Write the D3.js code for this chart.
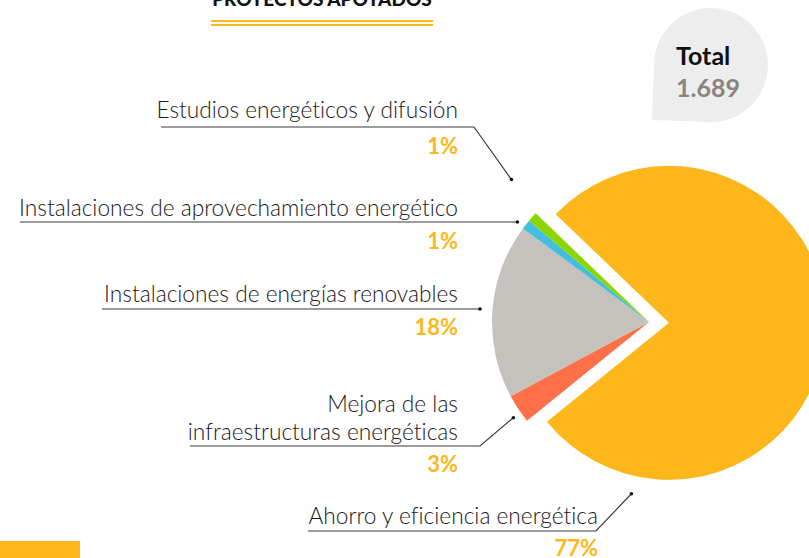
<!DOCTYPE html>
<html><head><meta charset="utf-8">
<script src="https://cdn.jsdelivr.net/npm/d3@7"></script>
<style>
html,body{margin:0;padding:0;background:#fff;}
svg{display:block;}
text{font-variant-ligatures:none;}
</style>
</head><body>
<svg id="c" width="809" height="558"></svg>
<script>
// ---- data ----
const title = "PROYECTOS APOYADOS";
const totalLabel = "Total";
const totalValue = "1.689";
const categories = [
  "Mejora de las infraestructuras energéticas",
  "Instalaciones de energías renovables",
  "Instalaciones de aprovechamiento energético",
  "Estudios energéticos y difusión",
  "Ahorro y eficiencia energética"
];
const shares = [3, 18, 1, 1, 77];
const colors = ["#FF7048", "#C5C1BD", "#43BEDC", "#8CD600", "#FDB71B"];

// ---- drawing ----
const svg = d3.select("#c");
const font = "Lato, 'Open Sans', sans-serif";
const cx = 649, cy = 322, R = 157;
const textColor = "#1a1718";
const lineColor = "#3a3a3a";
const yellow = "#FDB71B";

// title (cut at top)
svg.append("text").attr("x", 322).attr("y", 6).attr("text-anchor", "middle")
  .attr("font-family", font).attr("font-weight", 900).attr("font-size", 19)
  .attr("fill", "#111").text(title);
svg.append("rect").attr("x", 211).attr("y", 20).attr("width", 222).attr("height", 2).attr("fill", yellow);
svg.append("rect").attr("x", 211).attr("y", 24).attr("width", 222).attr("height", 2).attr("fill", yellow);

// bottom-left bar
svg.append("rect").attr("x", 0).attr("y", 541).attr("width", 80).attr("height", 17).attr("fill", yellow);

// total bubble
svg.append("path")
  .attr("d", "M652,120 L654,68 A57,57 0 1,1 710,122 Z")
  .attr("fill", "#EDEDED");
svg.append("text").attr("x", 676).attr("y", 65)
  .attr("font-family", font).attr("font-weight", 700).attr("font-size", 25)
  .attr("fill", "#111").text(totalLabel);
svg.append("text").attr("x", 676).attr("y", 97)
  .attr("font-family", font).attr("font-weight", 700).attr("font-size", 25)
  .attr("fill", "#8A837F").text(totalValue);

// pie
const startDeg = -129;
const pie = d3.pie().sort(null).value(d => d.v)
  .startAngle(startDeg * Math.PI / 180)
  .endAngle((startDeg + 360) * Math.PI / 180);
const data = categories.map((c, i) => ({c, v: shares[i], col: colors[i]}));
const arcs = pie(data);
const arc = d3.arc().innerRadius(0).outerRadius(R);
const explode = 20;
const g = svg.append("g").attr("transform", `translate(${cx},${cy})`);
g.selectAll("path").data(arcs).enter().append("path")
  .attr("d", arc)
  .attr("fill", d => d.data.col)
  .attr("transform", (d, i) => {
    if (i !== arcs.length - 1) return null;
    const a = (d.startAngle + d.endAngle) / 2;
    return `translate(${explode * Math.sin(a)},${-explode * Math.cos(a)})`;
  });

// labels layout (annotation positions)
const labelLayout = [
  {lines: ["Mejora de las", "infraestructuras energéticas"], ty: 412, ux0: 190, ux1: 480, uy: 446, rr: 166, da: -1.6, py: 472},
  {lines: ["Instalaciones de energías renovables"], ty: 302, ux0: 102, ux1: 480, uy: 309, rr: 169, da: -5, py: 335, noKink: true},
  {lines: ["Instalaciones de aprovechamiento energético"], ty: 216, ux0: 20, ux1: 517, uy: 222, rr: 165, da: -1.3, py: 249, noKink: true},
  {lines: ["Estudios energéticos y difusión"], ty: 118, ux0: 161, ux1: 474, uy: 127, rr: 198, da: 4, py: 154},
  {lines: ["Ahorro y eficiencia energética"], ty: 524, ux0: 308, ux1: 596, uy: 531, rr: 175, da: 100, py: 556, exploded: true, rx: 598}
];

arcs.forEach((d, i) => {
  const L = labelLayout[i];
  const mid = (d.startAngle + d.endAngle) / 2;
  const a = mid + L.da * Math.PI / 180;
  let ox = cx, oy = cy;
  if (L.exploded) { ox += explode * Math.sin(mid); oy -= explode * Math.cos(mid); }
  let px = ox + L.rr * Math.sin(a), py = oy - L.rr * Math.cos(a);
  if (L.noKink) py = L.uy;
  const rx = L.rx || 458;
  L.lines.forEach((ln, k) => {
    svg.append("text").attr("x", rx).attr("y", L.ty + k * 28)
      .attr("text-anchor", "end")
      .attr("font-family", font).attr("font-weight", 300).attr("font-size", 22.7)
      .attr("fill", textColor).text(ln);
  });
  const pts = L.noKink ? [[L.ux0, L.uy], [px, py]] : [[L.ux0, L.uy], [L.ux1, L.uy], [px, py]];
  svg.append("path").attr("d", d3.line()(pts)).attr("fill", "none")
    .attr("stroke", lineColor).attr("stroke-width", 1.2);
  svg.append("circle").attr("cx", px).attr("cy", py).attr("r", 1.8).attr("fill", "#111");
  svg.append("text").attr("x", rx).attr("y", L.py).attr("text-anchor", "end")
    .attr("font-family", font).attr("font-weight", 700).attr("font-size", 22)
    .attr("fill", yellow).text(shares[i] + "%");
});
</script>
</body></html>
